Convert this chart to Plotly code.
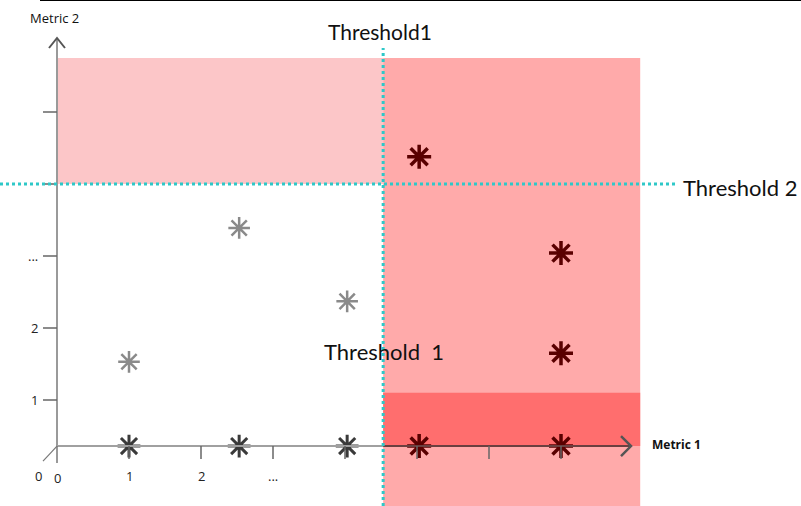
import plotly.graph_objects as go

# ---- data (axis units: 1 unit = one tick step) ----
x_ticks = [1, 2, 3, 4, 5, 6, 7]
x_tick_labels = ["1", "2", "...", "", "", "", ""]
y_ticks = [1, 2, 3, 4, 5]
y_tick_labels = ["1", "2", "...", "", ""]

axis_y0 = 0.36          # y position of the Metric 1 axis line
axis_x_end = 8.0        # end of Metric 1 arrow
axis_y_end = 6.0        # end of Metric 2 arrow

threshold_1 = 4.53      # Metric 1 threshold
threshold_2 = 4.0       # Metric 2 threshold
region_right = 8.1
region_top = 5.75
band_top = 1.1

grey_x = [1, 2.53, 4.03]
grey_y = [1.53, 3.39, 2.37]
base_x = [1, 2.53, 4.03]
base_y = [0.36, 0.36, 0.36]
red_x = [5.03, 7.0, 7.0, 5.03, 7.0]
red_y = [4.38, 3.04, 1.65, 0.36, 0.36]

X_RANGE = [-57 / 72, 744 / 72]
Y_RANGE = [-34 / 72, 472 / 72]
px = 1 / 72  # one pixel in axis units

fig = go.Figure()

shapes = []
# shaded regions
shapes.append(dict(type="rect", x0=0, x1=threshold_1, y0=threshold_2, y1=region_top,
                   fillcolor="#fcc6c8", line_width=0, layer="below"))
shapes.append(dict(type="rect", x0=threshold_1, x1=region_right, y0=Y_RANGE[0], y1=region_top,
                   fillcolor="#ffaaaa", line_width=0, layer="below"))
shapes.append(dict(type="rect", x0=threshold_1, x1=region_right, y0=axis_y0, y1=band_top,
                   fillcolor="#ff6e6e", line_width=0, layer="below"))

# axes lines
shapes.append(dict(type="line", x0=0, x1=0, y0=axis_y0, y1=axis_y_end + 1 * px,
                   line=dict(color="#9a9a9a", width=2)))
shapes.append(dict(type="line", x0=0, x1=threshold_1, y0=axis_y0, y1=axis_y0,
                   line=dict(color="#a0a0a0", width=2)))
shapes.append(dict(type="line", x0=threshold_1, x1=axis_x_end - 2 * px, y0=axis_y0, y1=axis_y0,
                   line=dict(color="#6a4040", width=2)))
# arrow heads
shapes.append(dict(type="path",
                   path=f"M {-8*px} {axis_y_end - 8*px} L 0 {axis_y_end + 2*px} L {8*px} {axis_y_end - 8*px}",
                   line=dict(color="#555555", width=2)))
shapes.append(dict(type="path",
                   path=f"M {axis_x_end - 12*px} {axis_y0 + 10*px} L {axis_x_end - 2*px} {axis_y0} L {axis_x_end - 12*px} {axis_y0 - 10*px}",
                   line=dict(color="#555555", width=2.5)))
# origin marks
shapes.append(dict(type="line", x0=0, x1=0, y0=axis_y0, y1=axis_y0 - 17 * px,
                   line=dict(color="#777777", width=1.5)))
shapes.append(dict(type="line", x0=0, x1=-14 * px, y0=axis_y0, y1=axis_y0 - 15 * px,
                   line=dict(color="#777777", width=1.2)))
# ticks
for xv in x_ticks:
    shapes.append(dict(type="line", x0=xv, x1=xv, y0=axis_y0, y1=axis_y0 - 13 * px,
                       line=dict(color="#666666", width=1.5)))
for yv in y_ticks:
    shapes.append(dict(type="line", x0=-14 * px, x1=0, y0=yv, y1=yv,
                       line=dict(color="#666666", width=1.5)))
# threshold lines
shapes.append(dict(type="line", x0=threshold_1, x1=threshold_1, y0=Y_RANGE[0], y1=region_top + 10 * px,
                   line=dict(color="#2ec8c8", width=3, dash="dot")))
shapes.append(dict(type="line", x0=X_RANGE[0], x1=region_right + 35 * px, y0=threshold_2, y1=threshold_2,
                   line=dict(color="#2ec8c8", width=3, dash="dot")))
# top border line
shapes.append(dict(type="line", xref="paper", yref="paper", x0=40 / 801, x1=1, y0=1, y1=1,
                   line=dict(color="#000000", width=2)))

fig.add_trace(go.Scatter(x=grey_x, y=grey_y, mode="markers",
                         marker=dict(symbol="asterisk-open", size=18, color="#8a8a8a",
                                     line=dict(color="#8a8a8a", width=2.5)),
                         hoverinfo="skip"))
fig.add_trace(go.Scatter(x=base_x, y=base_y, mode="markers",
                         marker=dict(symbol="asterisk-open", size=19, color="#3a3a3a",
                                     line=dict(color="#3a3a3a", width=3)),
                         hoverinfo="skip"))
fig.add_trace(go.Scatter(x=red_x, y=red_y, mode="markers",
                         marker=dict(symbol="asterisk-open", size=20, color="#5a0000",
                                     line=dict(color="#5a0000", width=3.5)),
                         hoverinfo="skip"))

annotations = []
tick_font = dict(family="Open Sans, Lato, sans-serif", size=13, color="#222222")
for xv, lab in zip(x_ticks, x_tick_labels):
    if lab:
        annotations.append(dict(x=xv, y=axis_y0 - 30 * px, text=lab, showarrow=False, font=tick_font))
for yv, lab in zip(y_ticks, y_tick_labels):
    if lab:
        annotations.append(dict(x=-17 * px, y=yv, text=lab, showarrow=False, xanchor="right", font=tick_font))
annotations.append(dict(x=0, y=axis_y0 - 32 * px, text="0", showarrow=False, font=tick_font))
annotations.append(dict(x=-19 * px, y=axis_y0 - 30 * px, text="0", showarrow=False, font=tick_font))

big = dict(family="Lato, Open Sans, sans-serif", size=21, color="#111111")
big22 = dict(family="Lato, Open Sans, sans-serif", size=22, color="#111111")
annotations.append(dict(x=threshold_1 - 3 * px, y=region_top + 27 * px, text="Threshold1",
                        showarrow=False, font=big))
annotations.append(dict(x=threshold_1 + 1 * px, y=1.67, text="Threshold\u00a0\u00a01",
                        showarrow=False, font=big22))
annotations.append(dict(x=region_right + 41 * px, y=threshold_2 - 3 * px, text="Threshold 2",
                        showarrow=False, xanchor="left", font=big22))
small = dict(family="Open Sans, Lato, sans-serif", size=13, color="#111111")
annotations.append(dict(x=-29 * px, y=axis_y_end + 22 * px, text="Metric 2", showarrow=False,
                        xanchor="left", font=small))
annotations.append(dict(x=axis_x_end + 17 * px, y=axis_y0 + 2 * px, text="<b>Metric 1</b>", showarrow=False,
                        xanchor="left", font=dict(family="Open Sans, Lato, sans-serif", size=12, color="#111111")))

fig.update_layout(
    width=801, height=506, margin=dict(l=0, r=0, t=0, b=0),
    paper_bgcolor="white", plot_bgcolor="white", showlegend=False,
    xaxis=dict(range=X_RANGE, visible=False, fixedrange=True),
    yaxis=dict(range=Y_RANGE, visible=False, fixedrange=True),
    shapes=shapes, annotations=annotations,
)
fig.write_html("out.html", config={"displayModeBar": False},
               post_script="document.body.style.margin='0';document.body.style.overflow='hidden';")
